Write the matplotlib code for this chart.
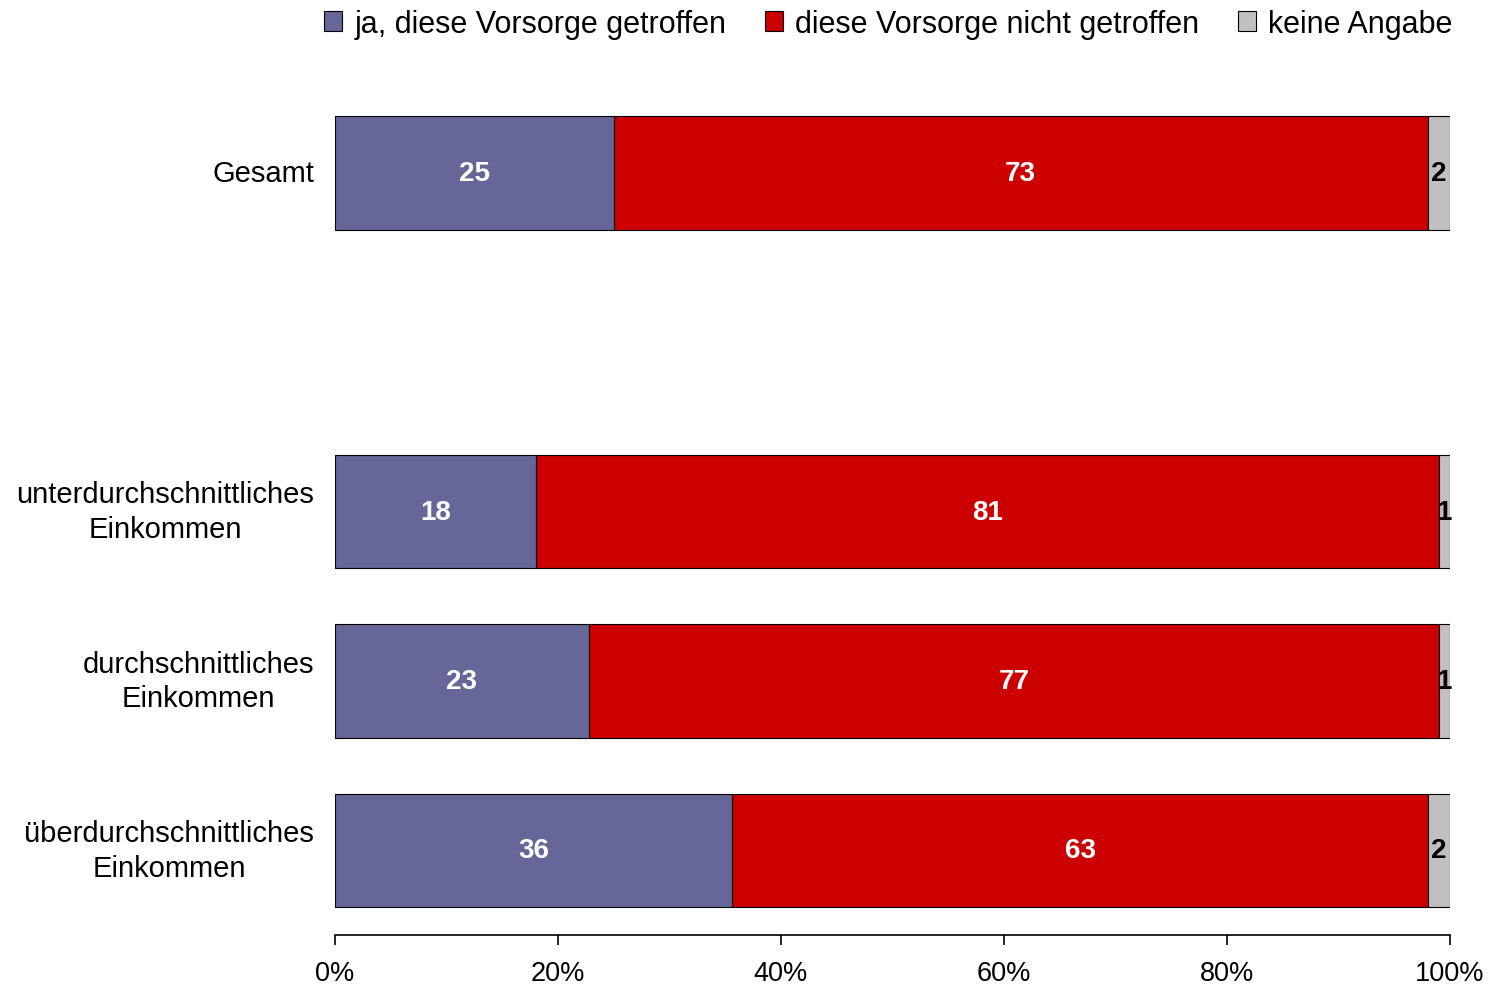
import numpy as np
import matplotlib.pyplot as plt

plt.rcParams['font.family'] = ['Liberation Sans', 'DejaVu Sans']

# Daten (Angaben in Prozent)
categories = ["Gesamt", "", "unterdurchschnittliches\nEinkommen",
              "durchschnittliches\nEinkommen", "überdurchschnittliches\nEinkommen"]
ja = [25, np.nan, 18, 23, 36]
nicht = [73, np.nan, 81, 77, 63]
keine = [2, np.nan, 1, 1, 2]
series_names = ["ja, diese Vorsorge getroffen", "diese Vorsorge nicht getroffen", "keine Angabe"]
colors = ["#666699", "#CC0000", "#C0C0C0"]
text_colors = ["white", "white", "black"]
tick_labels = ["0%", "20%", "40%", "60%", "80%", "100%"]

vals = np.array([ja, nicht, keine], dtype=float)
totals = np.nansum(vals, axis=0)
totals[totals == 0] = np.nan
pct = vals / totals * 100

fig = plt.figure(figsize=(14.92, 9.87), dpi=100)
ax = fig.add_axes([0.2245, 0.0517, 0.7473, 0.858])

y = np.arange(len(categories))
left = np.zeros(len(categories))
for i in range(3):
    w = np.nan_to_num(pct[i])
    mask = ~np.isnan(pct[i])
    ax.barh(y[mask], w[mask], left=left[mask], height=0.67, color=colors[i],
            edgecolor="black", linewidth=0.8, label=series_names[i])
    for yy, l, ww, v in zip(y[mask], left[mask], w[mask], vals[i][mask]):
        ax.text(l + ww / 2, yy, f"{v:.0f}", ha="center", va="center",
                color=text_colors[i], fontsize=20, fontweight="bold")
    left = left + w

ax.set_xlim(0, 100)
ax.set_ylim(4.5, -0.5)
ax.set_yticks(y)
ax.set_yticklabels(categories, fontsize=21, multialignment="center",
                   linespacing=1.3, va="center")
ax.tick_params(axis="y", length=0, pad=15)
ax.set_xticks(np.arange(0, 101, 20))
ax.set_xticklabels(tick_labels, fontsize=19.5)
ax.tick_params(axis="x", direction="out", length=7, width=1.2, pad=11)
for s in ["left", "right", "top"]:
    ax.spines[s].set_visible(False)
ax.spines["bottom"].set_linewidth(1.2)

fig.legend(loc="upper right", bbox_to_anchor=(0.992, 1.018), ncol=3, frameon=False,
           fontsize=22, handlelength=0.6, handleheight=0.6, handletextpad=0.4,
           columnspacing=1.25)

plt.savefig("out.png", dpi=100)
